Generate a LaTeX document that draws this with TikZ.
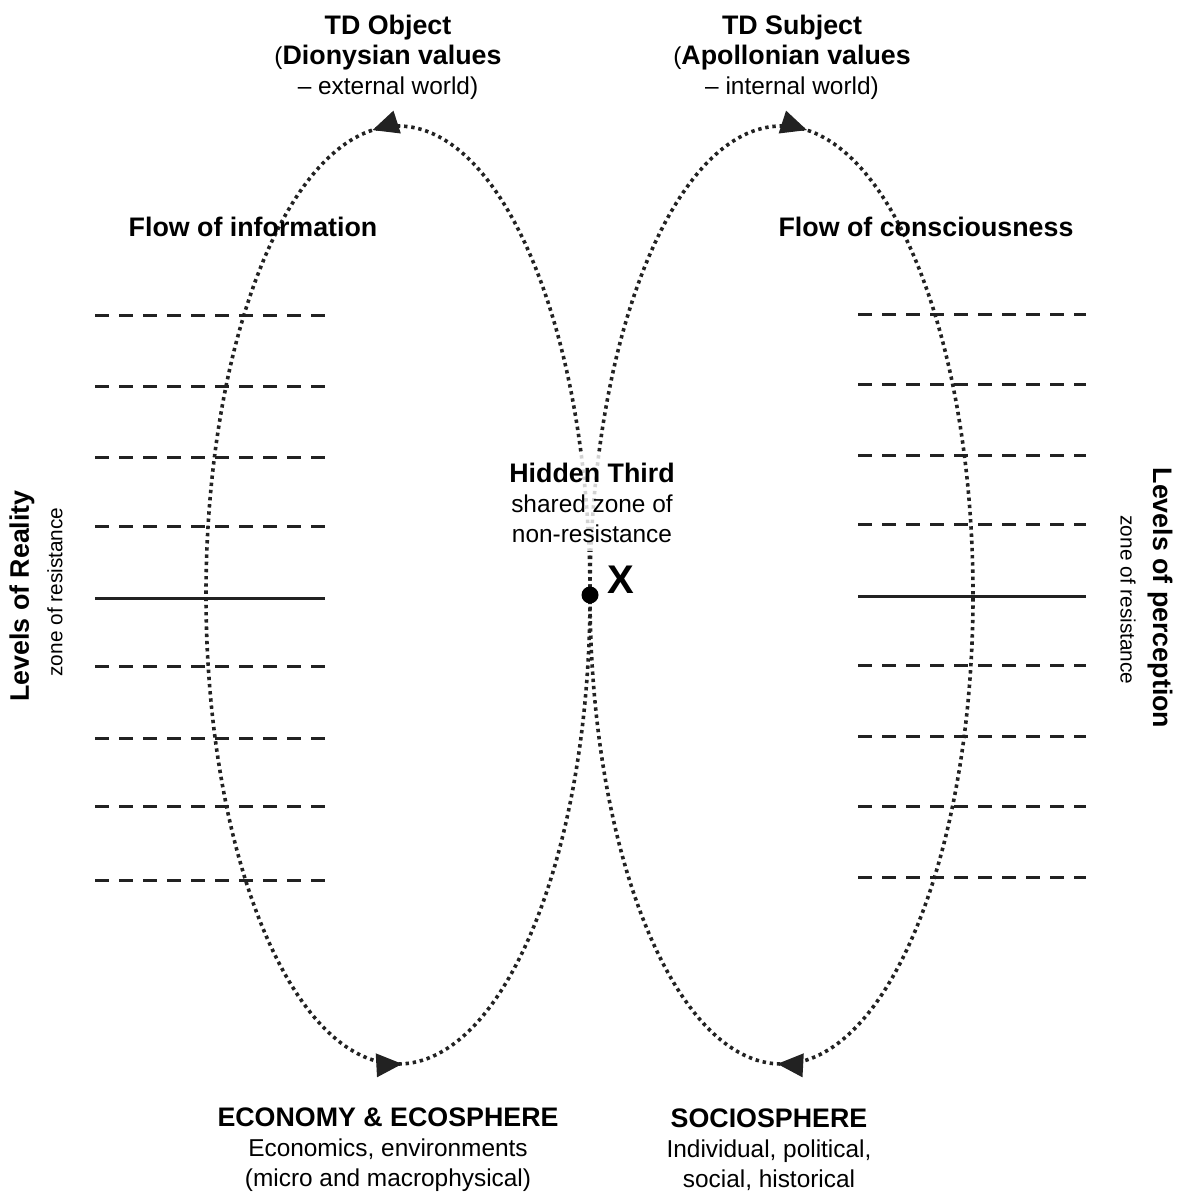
\documentclass[tikz,border=0pt]{standalone}
\usepackage{fontspec}
\setmainfont{Liberation Sans}
\usepackage{tikz}
\usetikzlibrary{arrows.meta}
\usetikzlibrary{decorations.markings}
\definecolor{inkgray}{HTML}{222222}
\newcommand{\hd}{\fontsize{13.4}{15}\selectfont\bfseries}

\begin{document}
\begin{tikzpicture}[x=0.5pt,y=-0.5pt,
		txt/.style={align=center,inner sep=0pt,font=\fontsize{12.2}{15}\selectfont},
		subtxt/.style={inner sep=0pt,font=\fontsize{10.4}{12}\selectfont},
		lvline/.style={draw=inkgray,line width=1.5pt,dash pattern=on 7pt off 5pt},
		midline/.style={draw=inkgray,line width=1.5pt},
		dot/.style={circle,fill=black,inner sep=0pt,minimum size=8.5pt},
		flowline/.style={draw=inkgray,line width=1.8pt,dash pattern=on 1.7pt off 1.9pt,
			decoration={markings,
				mark=at position 0.262 with {\arrow{Triangle[length=13pt,width=11.5pt]}},
				mark=at position 0.752 with {\arrow{Triangle[length=13pt,width=11.5pt]}}},
			postaction={decorate}}]
		\useasboundingbox (0,0) rectangle (1182,1192);

		\draw[lvline] (95,316)--(325,316);
		\draw[lvline] (95,386)--(325,386);
		\draw[lvline] (95,457)--(325,457);
		\draw[lvline] (95,526)--(325,526);
		\draw[midline] (95,598)--(325,598);
		\draw[lvline] (95,666)--(325,666);
		\draw[lvline] (95,738)--(325,738);
		\draw[lvline] (95,806)--(325,806);
		\draw[lvline] (95,880)--(325,880);

		\draw[lvline] (858,315)--(1086,315);
		\draw[lvline] (858,384)--(1086,384);
		\draw[lvline] (858,455)--(1086,455);
		\draw[lvline] (858,524)--(1086,524);
		\draw[midline] (858,596)--(1086,596);
		\draw[lvline] (858,665)--(1086,665);
		\draw[lvline] (858,736)--(1086,736);
		\draw[lvline] (858,806)--(1086,806);
		\draw[lvline] (858,877)--(1086,877);

		\coordinate (H) at (590,595);
		\draw[flowline] (H) arc[start angle=0,end angle=360,x radius=96pt,y radius=234.5pt];
		\draw[flowline] (H) arc[start angle=180,end angle=-180,x radius=95.75pt,y radius=234.5pt];

		\node[txt] (TO) at (388,57) {{\hd TD Object}\\({\hd Dionysian values}\\– external world)};
		\node[txt] (TS) at (792,57) {{\hd TD Subject}\\({\hd Apollonian values}\\– internal world)};
		\node[txt] (FI) at (253,227) {\hd Flow of information};
		\node[txt] (FC) at (926,227) {\hd Flow of consciousness};
		\node[txt,fill=white,fill opacity=0.8,text opacity=1,inner sep=4pt] (HT) at (592,503) {{\hd Hidden Third}\\shared zone of\\non-resistance};
		\node[dot] (X) at (H) {};
		\node[txt,font=\fontsize{20}{22}\selectfont\bfseries] (XL) at (621,580) {X};
		\node[txt] (EE) at (388,1150) {{\hd ECONOMY \& ECOSPHERE}\\Economics, environments\\(micro and macrophysical)};
		\node[txt] (SO) at (769,1150) {{\hd SOCIOSPHERE}\\Individual, political,\\social, historical};

		\node[txt,rotate=90] (LR) at (22,596) {\hd Levels of Reality};
		\node[subtxt,rotate=90] (LRz) at (55,592) {zone of resistance};
		\node[txt,rotate=-90] (LP) at (1160,598) {\hd Levels of perception};
		\node[subtxt,rotate=-90] (LPz) at (1128,600) {zone of resistance};
	\end{tikzpicture}
\end{document}
